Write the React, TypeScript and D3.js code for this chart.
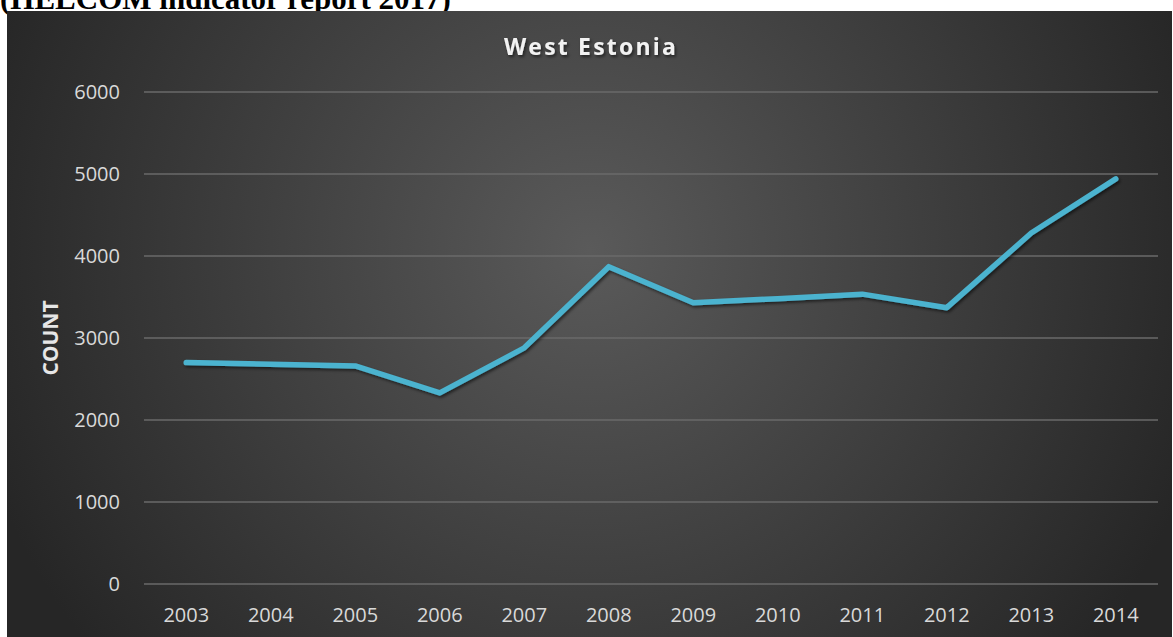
import React from 'react';
import * as d3 from 'd3';

const years = ['2003', '2004', '2005', '2006', '2007', '2008', '2009', '2010', '2011', '2012', '2013', '2014'];
const counts = [2700, 2680, 2660, 2330, 2880, 3870, 3430, 3480, 3535, 3370, 4280, 4940];
const yTicks = [0, 1000, 2000, 3000, 4000, 5000, 6000];

const W = 1173;
const H = 637;
const plot = { left: 144, right: 1158, top: 92, bottom: 584 };

const App: React.FC = () => {
  const x = d3.scalePoint<string>().domain(years).range([plot.left, plot.right]).padding(0.5);
  const y = d3.scaleLinear().domain([0, 6000]).range([plot.bottom, plot.top]);

  const line = d3.line<number>()
    .x((_, i) => x(years[i])!)
    .y(d => y(d));

  const font = '"Open Sans", sans-serif';

  return (
    <svg width={W} height={H} style={{ position: 'absolute', left: 0, top: 0 }}>
      <defs>
        <radialGradient id="bg" gradientUnits="userSpaceOnUse" cx={590} cy={250} r={640}>
          <stop offset="0" stopColor="#5a5a5a" />
          <stop offset="1" stopColor="#262626" />
        </radialGradient>
        <filter id="shadow" x="-10%" y="-10%" width="120%" height="130%">
          <feDropShadow dx="1.5" dy="2" stdDeviation="1.5" floodColor="#000" floodOpacity="0.55" />
        </filter>
      </defs>

      <rect x={0} y={0} width={W} height={H} fill="#fff" />
      {/* caption of the source document, cut off at the page top */}
      <text x={0} y={9} fontFamily='"Liberation Serif", serif' fontWeight="bold" fontSize={31} fill="#000">
        (HELCOM indicator report 2017)
      </text>

      <rect x={7} y={11} width={1165} height={H - 11} fill="url(#bg)" />

      {/* title */}
      <text x={591} y={55} textAnchor="middle" fontFamily={font} fontWeight="bold" fontSize={23}
        letterSpacing={2.2} fill="#f2f2f2" filter="url(#shadow)">
        West Estonia
      </text>

      {/* gridlines and y labels */}
      {yTicks.map(t => (
        <g key={t}>
          <line x1={plot.left} x2={plot.right} y1={y(t)} y2={y(t)} stroke="#6a6a6a" strokeWidth={1.3} />
          <text x={120} y={y(t)} dy="0.35em" textAnchor="end" fontFamily={font} fontSize={20} fill="#d9d9d9">
            {t}
          </text>
        </g>
      ))}

      {/* x labels */}
      {years.map(yr => (
        <text key={yr} x={x(yr)} y={622} textAnchor="middle" fontFamily={font} fontSize={20} fill="#d9d9d9">
          {yr}
        </text>
      ))}

      {/* axis title */}
      <text transform="translate(58,338) rotate(-90)" textAnchor="middle" fontFamily={font} fontWeight="bold"
        fontSize={21} fill="#e6e6e6">
        COUNT
      </text>

      <path d={line(counts) ?? ''} fill="none" stroke="#4cb3cf" strokeWidth={5.5} strokeLinejoin="round"
        strokeLinecap="round" filter="url(#shadow)" />
    </svg>
  );
};

export default App;
